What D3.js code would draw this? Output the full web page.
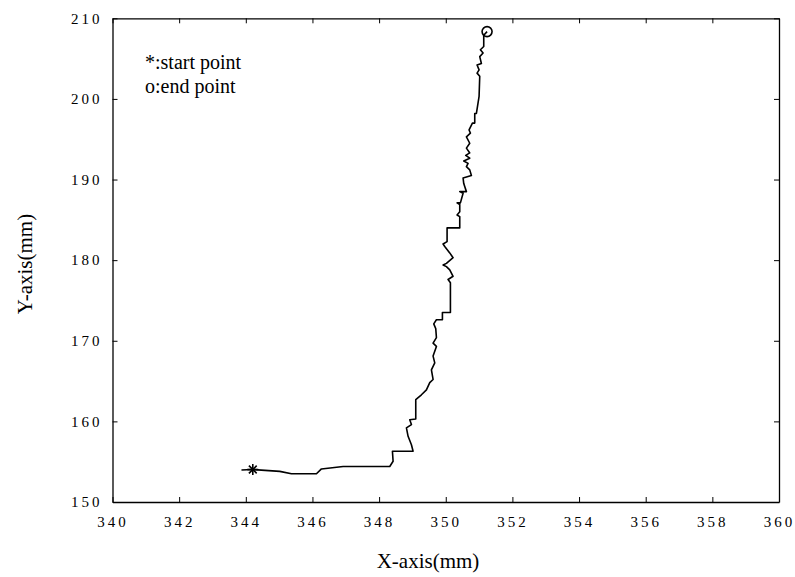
<!DOCTYPE html>
<html>
<head>
<meta charset="utf-8">
<script src="https://cdn.jsdelivr.net/npm/d3@7"></script>
<style>
  body { margin: 0; background: #fff; }
  svg text { font-family: "Liberation Serif", "DejaVu Serif", serif; fill: #000; }
</style>
</head>
<body>
<div id="chart"></div>
<script>
// trajectory, mm
const xs = [343.87, 344.19, 345.02, 345.37, 346.12, 346.27, 346.92, 348.32, 348.42, 348.40,
  349.02, 348.97, 348.87, 348.82, 348.97, 348.92, 349.10, 349.10, 349.27, 349.42,
  349.52, 349.62, 349.57, 349.67, 349.62, 349.72, 349.62, 349.72, 349.70, 349.64,
  349.72, 349.90, 349.90, 350.14, 350.14, 350.07, 350.22, 350.12, 350.02, 349.92,
  350.02, 350.22, 350.12, 349.97, 349.92, 350.04, 350.04, 350.42, 350.42, 350.34,
  350.42, 350.42, 350.34, 350.44, 350.52, 350.42, 350.62, 350.54, 350.52, 350.77,
  350.72, 350.62, 350.67, 350.54, 350.72, 350.60, 350.72, 350.62, 350.72, 350.62,
  350.74, 350.70, 350.80, 350.87, 350.87, 350.92, 351.00, 351.02, 350.94, 351.00,
  350.94, 351.07, 351.02, 351.12, 351.04, 351.14, 351.14, 351.24];
const ys = [153.96, 154.03, 153.80, 153.50, 153.50, 154.10, 154.40, 154.40, 155.05, 156.30,
  156.30, 157.10, 158.15, 159.20, 159.60, 160.20, 160.30, 162.70, 163.30, 163.90,
  164.80, 165.20, 166.40, 167.25, 168.10, 169.30, 169.70, 170.40, 171.50, 172.10,
  172.60, 172.60, 173.50, 173.50, 177.20, 177.60, 178.00, 178.80, 179.20, 179.40,
  179.60, 180.30, 180.90, 181.70, 182.00, 182.30, 184.00, 184.00, 185.40, 185.60,
  186.00, 186.90, 187.10, 187.10, 188.30, 188.50, 188.50, 189.50, 190.20, 190.50,
  191.20, 191.60, 192.00, 192.30, 192.65, 193.00, 193.30, 193.90, 194.50, 195.30,
  195.75, 196.15, 197.00, 197.00, 198.20, 198.20, 200.30, 202.80, 203.20, 203.60,
  204.20, 204.40, 205.25, 205.70, 206.10, 206.50, 207.90, 208.35];
const startPt = [344.21, 154.03];
const endPt = [351.24, 208.35];
const xTicks = [340, 342, 344, 346, 348, 350, 352, 354, 356, 358, 360];
const yTicks = [150, 160, 170, 180, 190, 200, 210];
const legendLines = ["*:start point", "o:end point"];

const W = 795, H = 577;
const m = { left: 112.5, right: 16, top: 18.3, bottom: 75 };
const iw = W - m.left - m.right, ih = H - m.top - m.bottom;

const svg = d3.select('#chart').append('svg')
  .attr('width', W).attr('height', H);
const g = svg.append('g').attr('transform', `translate(${m.left},${m.top})`);

const x = d3.scaleLinear().domain([340, 360]).range([0, iw]);
const y = d3.scaleLinear().domain([150, 210]).range([ih, 0]);

// axes, ticks pointing inward
const styleAxis = sel => {
  sel.select('.domain').attr('stroke', '#000').attr('stroke-width', 1.3);
  sel.selectAll('.tick line').attr('stroke', '#000').attr('stroke-width', 1);
};
g.append('g').attr('transform', `translate(0,${ih})`)
  .call(d3.axisBottom(x).tickValues(xTicks).tickSizeInner(-5).tickSizeOuter(0).tickPadding(14))
  .call(styleAxis)
  .selectAll('text').attr('font-size', 15).attr('letter-spacing', 3);
g.append('g')
  .call(d3.axisLeft(y).tickValues(yTicks).tickSizeInner(-5).tickSizeOuter(0).tickPadding(10))
  .call(styleAxis)
  .selectAll('text').attr('font-size', 15).attr('letter-spacing', 3);
g.append('g')
  .call(d3.axisTop(x).tickValues(xTicks).tickSizeInner(-5).tickSizeOuter(0).tickFormat(''))
  .call(styleAxis);
g.append('g').attr('transform', `translate(${iw},0)`)
  .call(d3.axisRight(y).tickValues(yTicks).tickSizeInner(-5).tickSizeOuter(0).tickFormat(''))
  .call(styleAxis);

// trajectory
const pts = xs.map((v, i) => [v, ys[i]]);
g.append('path').datum(pts)
  .attr('fill', 'none').attr('stroke', '#000').attr('stroke-width', 1.6)
  .attr('stroke-linejoin', 'round')
  .attr('d', d3.line().x(d => x(d[0])).y(d => y(d[1])));

// start marker (asterisk)
const sx = x(startPt[0]), sy = y(startPt[1]);
const star = g.append('g').attr('transform', `translate(${sx},${sy})`)
  .attr('stroke', '#000').attr('stroke-width', 1.6);
[0, 45, 90, 135].forEach(a => {
  const r = 5.5, t = a * Math.PI / 180;
  star.append('line')
    .attr('x1', -r * Math.cos(t)).attr('y1', -r * Math.sin(t))
    .attr('x2', r * Math.cos(t)).attr('y2', r * Math.sin(t));
});

// end marker
g.append('circle')
  .attr('cx', x(endPt[0])).attr('cy', y(endPt[1])).attr('r', 5)
  .attr('fill', 'none').attr('stroke', '#000').attr('stroke-width', 1.6);

// legend text
svg.selectAll('.leg').data(legendLines).enter().append('text')
  .attr('x', 145).attr('y', (d, i) => 69 + i * 24)
  .attr('font-size', 20).text(d => d);

// axis titles
svg.append('text').attr('x', 428).attr('y', 568)
  .attr('text-anchor', 'middle').attr('font-size', 21).text('X-axis(mm)');
svg.append('text')
  .attr('transform', 'translate(32,264) rotate(-90)')
  .attr('text-anchor', 'middle').attr('font-size', 21).text('Y-axis(mm)');
</script>
</body>
</html>
